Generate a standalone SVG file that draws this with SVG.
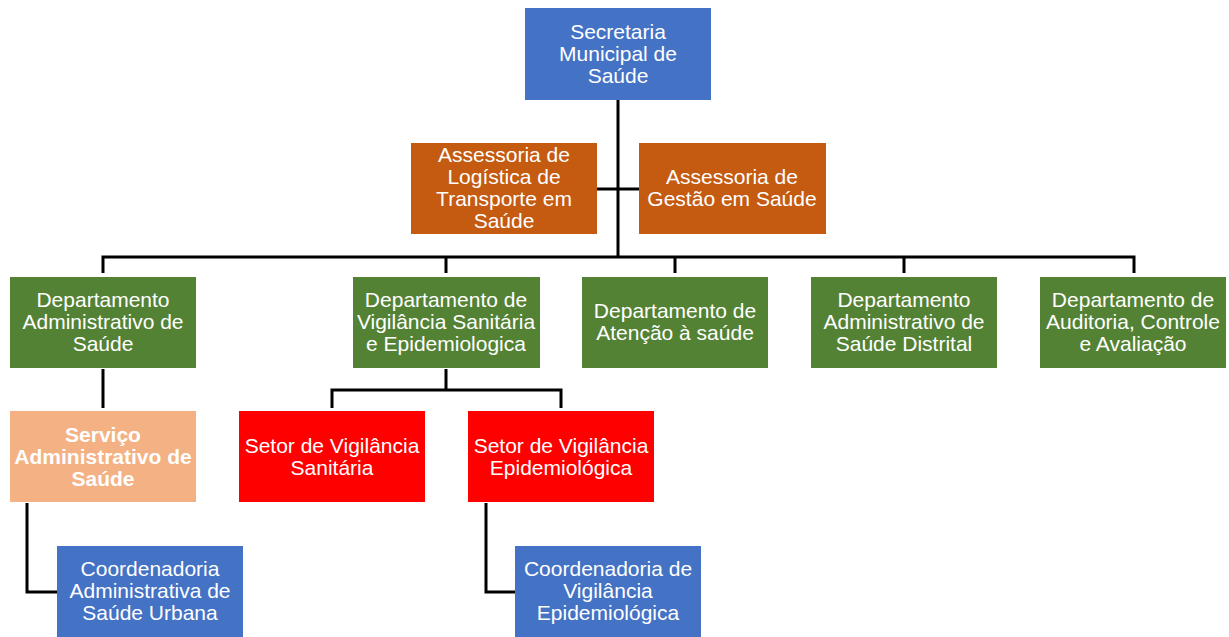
<svg xmlns="http://www.w3.org/2000/svg" width="1229" height="637" viewBox="0 0 1229 637">
<style>
.t{font-family:"Liberation Sans",Arial,sans-serif;font-size:21px;fill:#fff;text-anchor:middle}
.b{font-weight:bold}
.blue{fill:#4472C4}
.orange{fill:#C55A11}
.green{fill:#548235}
.peach{fill:#F4B183}
.red{fill:#FF0000}
.c{fill:none;stroke:#000;stroke-width:3}
</style>
<rect width="1229" height="637" fill="#fff"/>
<g id="connectors">
<path class="c" d="M618 100V257M103 273V257H1134V273M446 257V273M675 257V273M904 257V273M597 189H639"/>
<path class="c" d="M103 369V408"/>
<path class="c" d="M446 369V390M332 408V390H561V408"/>
<path class="c" d="M27 503V592H57"/>
<path class="c" d="M486 503V592H515"/>
</g>
<g id="secretaria"><rect class="blue" x="525" y="8" width="186" height="92"/>
<text class="t" x="618" y="39">Secretaria</text><text class="t" x="618" y="61">Municipal de</text><text class="t" x="618" y="83">Saúde</text></g>
<g id="assessoria-logistica"><rect class="orange" x="411" y="143" width="186" height="91"/>
<text class="t" x="504" y="162">Assessoria de</text><text class="t" x="504" y="184">Logística de</text><text class="t" x="504" y="206">Transporte em</text><text class="t" x="504" y="228">Saúde</text></g>
<g id="assessoria-gestao"><rect class="orange" x="639" y="143" width="187" height="91"/>
<text class="t" x="732" y="184">Assessoria de</text><text class="t" x="732" y="206">Gestão em Saúde</text></g>
<g id="dep-admin"><rect class="green" x="10" y="277" width="186" height="91"/>
<text class="t" x="103" y="307">Departamento</text><text class="t" x="103" y="329">Administrativo de</text><text class="t" x="103" y="351">Saúde</text></g>
<g id="dep-vigilancia"><rect class="green" x="353" y="277" width="187" height="91"/>
<text class="t" x="446" y="307">Departamento de</text><text class="t" x="446" y="329">Vigilância Sanitária</text><text class="t" x="446" y="351">e Epidemiologica</text></g>
<g id="dep-atencao"><rect class="green" x="582" y="277" width="186" height="91"/>
<text class="t" x="675" y="318">Departamento de</text><text class="t" x="675" y="340">Atenção à saúde</text></g>
<g id="dep-distrital"><rect class="green" x="811" y="277" width="186" height="91"/>
<text class="t" x="904" y="307">Departamento</text><text class="t" x="904" y="329">Administrativo de</text><text class="t" x="904" y="351">Saúde Distrital</text></g>
<g id="dep-auditoria"><rect class="green" x="1040" y="277" width="186" height="91"/>
<text class="t" x="1133" y="307">Departamento de</text><text class="t" x="1133" y="329">Auditoria, Controle</text><text class="t" x="1133" y="351">e Avaliação</text></g>
<g id="servico"><rect class="peach" x="10" y="411" width="186" height="91"/>
<text class="t b" x="103" y="442">Serviço</text><text class="t b" x="103" y="464">Administrativo de</text><text class="t b" x="103" y="486">Saúde</text></g>
<g id="setor-sanitaria"><rect class="red" x="239" y="411" width="186" height="91"/>
<text class="t" x="332" y="453">Setor de Vigilância</text><text class="t" x="332" y="475">Sanitária</text></g>
<g id="setor-epidemiologica"><rect class="red" x="468" y="411" width="186" height="91"/>
<text class="t" x="561" y="453">Setor de Vigilância</text><text class="t" x="561" y="475">Epidemiológica</text></g>
<g id="coord-admin"><rect class="blue" x="57" y="546" width="186" height="91"/>
<text class="t" x="150" y="576">Coordenadoria</text><text class="t" x="150" y="598">Administrativa de</text><text class="t" x="150" y="620">Saúde Urbana</text></g>
<g id="coord-vigilancia"><rect class="blue" x="515" y="546" width="186" height="91"/>
<text class="t" x="608" y="576">Coordenadoria de</text><text class="t" x="608" y="598">Vigilância</text><text class="t" x="608" y="620">Epidemiológica</text></g>
</svg>
